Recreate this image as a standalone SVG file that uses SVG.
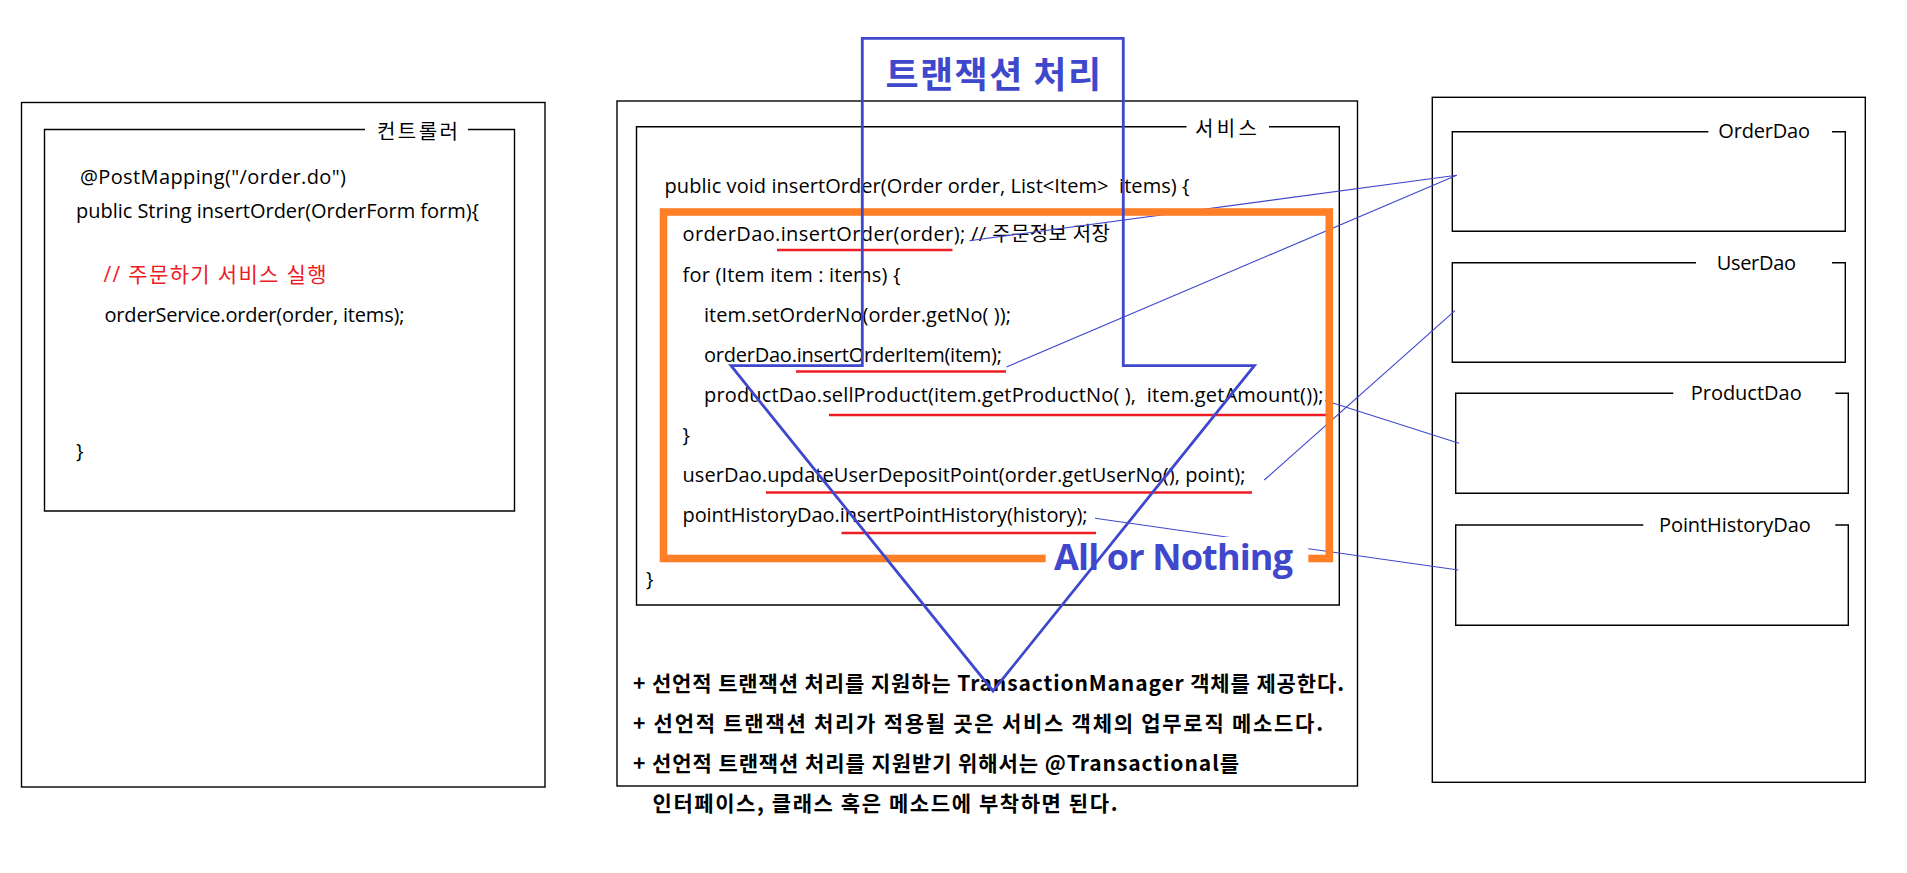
<svg xmlns="http://www.w3.org/2000/svg" width="1907" height="873" viewBox="0 0 1907 873">
<style>
.box{fill:none;stroke:#000;stroke-width:1.4}
.t{font-family:"Open Sans","Noto Sans CJK KR",sans-serif;font-size:20px;fill:#000;white-space:pre}
.lbl{font-family:"Noto Sans CJK KR","Open Sans",sans-serif;font-size:20px;fill:#000}
.dl{font-family:"Open Sans","Noto Sans CJK KR",sans-serif;font-size:20px;fill:#000}
.red{fill:#ED1C24;font-size:21px}
.b{font-family:"Noto Sans CJK KR","Open Sans",sans-serif;font-size:21px;font-weight:bold;fill:#000}
.ul{stroke:#ED1C24;stroke-width:2.6;fill:none}
.cn{stroke:#3F48CC;stroke-width:1.1;fill:none}
</style>
<rect width="1907" height="873" fill="#fff"/>

<g id="controller">
  <rect class="box" x="21.5" y="102.5" width="523.5" height="684.5"/>
  <path class="box" d="M365,129.5 H44.5 V511 H514.5 V129.5 H468"/>
  <text class="lbl" x="377" y="139" textLength="81">컨트롤러</text>
  <text class="t" x="80" y="184" textLength="266">@PostMapping("/order.do")</text>
  <text class="t" x="76" y="218" textLength="403">public String insertOrder(OrderForm form){</text>
  <text class="t red" x="103.5" y="282" textLength="223">// 주문하기 서비스 실행</text>
  <text class="t" x="104.5" y="322" textLength="300">orderService.order(order, items);</text>
  <text class="t" x="76" y="458">}</text>
</g>

<g id="service">
  <rect class="box" x="617" y="101" width="740.5" height="685"/>
  <path class="box" d="M1186.5,126.7 H636.5 V605 H1339.3 V126.7 H1269"/>
  <text class="lbl" x="1195" y="136" textLength="62">서비스</text>
  <text class="t" x="664.5" y="193" textLength="525">public void insertOrder(Order order, List&lt;Item&gt;  items) {</text>
  <text class="t" x="682.5" y="241" textLength="427.5">orderDao.insertOrder(order); // 주문정보 저장</text>
  <text class="t" x="682.5" y="282" textLength="218">for (Item item : items) {</text>
  <text class="t" x="704" y="322" textLength="307">item.setOrderNo(order.getNo( ));</text>
  <text class="t" x="704" y="362" textLength="298">orderDao.insertOrderItem(item);</text>
  <text class="t" x="704" y="402" textLength="619.5">productDao.sellProduct(item.getProductNo( ),  item.getAmount());</text>
  <text class="t" x="682.5" y="442">}</text>
  <text class="t" x="682.5" y="482" textLength="563">userDao.updateUserDepositPoint(order.getUserNo(), point);</text>
  <text class="t" x="682.5" y="522" textLength="405">pointHistoryDao.insertPointHistory(history);</text>
  <text class="t" x="646" y="586">}</text>
  <g id="underlines">
    <line class="ul" x1="777" y1="250" x2="952.5" y2="250"/>
    <line class="ul" x1="796" y1="371.5" x2="1006" y2="371.5"/>
    <line class="ul" x1="829" y1="415" x2="1326" y2="415"/>
    <line class="ul" x1="766" y1="492.5" x2="1252" y2="492.5"/>
    <line class="ul" x1="841.5" y1="533" x2="1096" y2="533"/>
  </g>
  <text class="b" x="633" y="691" textLength="711">+ 선언적 트랜잭션 처리를 지원하는 TransactionManager 객체를 제공한다.</text>
  <text class="b" x="633" y="731" textLength="690">+ 선언적 트랜잭션 처리가 적용될 곳은 서비스 객체의 업무로직 메소드다.</text>
  <text class="b" x="633" y="771" textLength="606">+ 선언적 트랜잭션 처리를 지원받기 위해서는 @Transactional를</text>
  <text class="b" x="652.5" y="811" textLength="465">인터페이스, 클래스 혹은 메소드에 부착하면 된다.</text>
</g>

<g id="dao-container">
  <rect class="box" x="1432.3" y="97.3" width="433" height="685"/>
</g>
<g id="orderDao">
  <path class="box" d="M1708.3,131.7 H1452.3 V231.3 H1845.3 V131.7 H1832"/>
  <text class="dl" x="1718.3" y="138" textLength="91.7">OrderDao</text>
</g>
<g id="userDao">
  <path class="box" d="M1696,262.7 H1452.3 V362.3 H1845.3 V262.7 H1832"/>
  <text class="dl" x="1716.7" y="269.5" textLength="79.3">UserDao</text>
</g>
<g id="productDao">
  <path class="box" d="M1673.3,393.3 H1455.7 V493.3 H1848.3 V393.3 H1835.3"/>
  <text class="dl" x="1690.7" y="400" textLength="111">ProductDao</text>
</g>
<g id="pointHistoryDao">
  <path class="box" d="M1643.3,525 H1455.7 V625.3 H1848.3 V525 H1835.3"/>
  <text class="dl" x="1659" y="531.5" textLength="151.7">PointHistoryDao</text>
</g>

<g id="connectors">
  <line class="cn" x1="969.3" y1="240.7" x2="1456.7" y2="175.3"/>
  <line class="cn" x1="1006.5" y1="367" x2="1456.7" y2="175.3"/>
  <line class="cn" x1="1325" y1="400.6" x2="1459" y2="443.3"/>
  <line class="cn" x1="1264.3" y1="480" x2="1455" y2="310.7"/>
  <line class="cn" x1="1095" y1="518.3" x2="1458.3" y2="570"/>
</g>

<g id="transaction-scope">
  <rect x="663.5" y="212" width="665.8" height="346.5" fill="none" stroke="#FF7F27" stroke-width="7.6"/>
  <rect x="1045.7" y="537" width="262.6" height="46" fill="#fff"/>
  <text x="1054" y="570" textLength="239" font-family="'Open Sans','Liberation Sans',sans-serif" font-size="36" font-weight="bold" fill="#3F48CC">All or Nothing</text>
</g>

<g id="transaction-arrow">
  <path d="M862.3,38.3 H1123.3 V365.7 H1254.4 L993,691 L731,365.7 H862.3 Z" fill="none" stroke="#3F48CC" stroke-width="2.8" stroke-linejoin="miter"/>
  <text x="885.5" y="88" textLength="215.5" font-family="'Noto Sans CJK KR',sans-serif" font-size="36" font-weight="bold" fill="#3F48CC">트랜잭션 처리</text>
</g>
</svg>
